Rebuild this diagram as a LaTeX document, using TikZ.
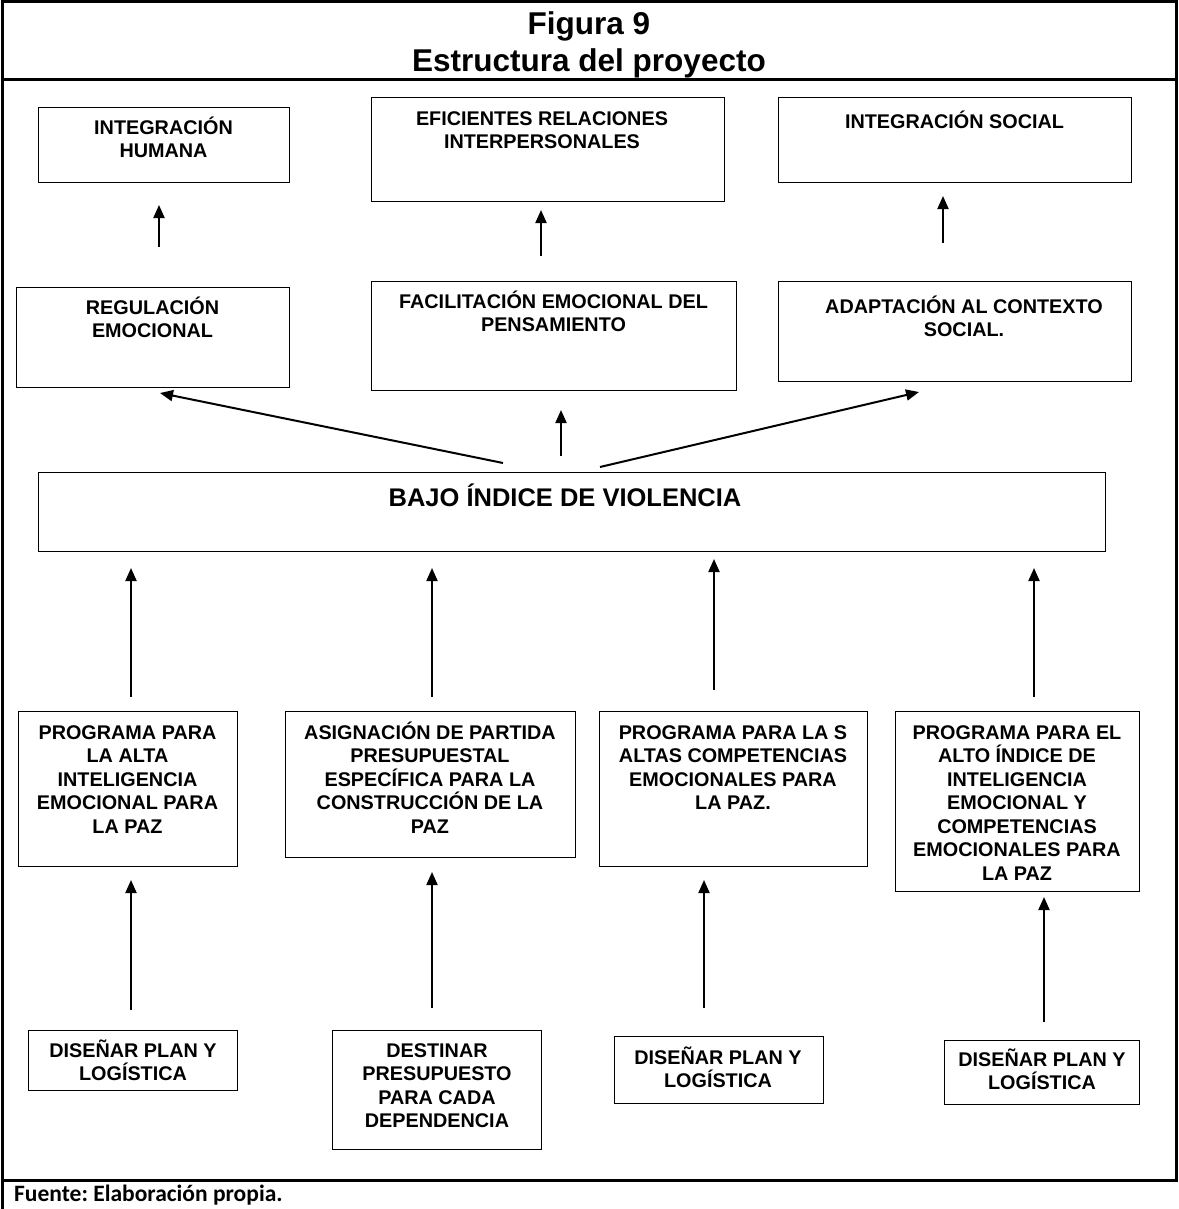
\documentclass[tikz,border=0pt]{standalone}
\usepackage{fontspec}
\setmainfont{Liberation Sans}
\newfontfamily\calfont{Carlito}
\usetikzlibrary{arrows.meta}
\frenchspacing
\newcommand\fl{\rule{0pt}{18pt}}
\newcommand\flb{\rule{0pt}{23pt}}
\tikzset{
  frame/.style={line width=3pt},
  boxst/.style={draw, line width=1.3pt, rectangle, inner sep=0pt, anchor=north west},
  txt/.style={font=\bfseries\fontsize{19.8}{23.5}\selectfont, align=center, inner sep=0pt, anchor=north},
  bigtxt/.style={font=\bfseries\fontsize{25.5}{30}\selectfont, align=center, inner sep=0pt, anchor=north},
  titletxt/.style={font=\bfseries\fontsize{31.5}{36}\selectfont, inner sep=0pt, anchor=base},
  srctxt/.style={font=\calfont\bfseries\fontsize{23.5}{26}\selectfont, inner sep=0pt, anchor=base west},
  arr/.style={line width=2pt, -{Triangle[length=13pt,width=11pt]}},
}
\begin{document}
\begin{tikzpicture}[x=1pt,y=-1pt]
\useasboundingbox (0,0) rectangle (1178,1209);
% frame
\coordinate (fTL) at (2,2);
\coordinate (fTR) at (1176,2);
\coordinate (fBL) at (2,1209);
\coordinate (fR) at (1176,1180);
\coordinate (sepL) at (2,80);
\coordinate (sepR) at (1176,80);
\coordinate (botL) at (2,1180);
\coordinate (botR) at (1178,1180);
\draw[frame] (fBL) -- (fTL) -- (fTR) -- (fR);
\draw[frame] (sepL) -- (sepR);
\draw[frame] (botL) -- (botR);
\node[titletxt] (title1) at (589,35) {Figura 9};
\node[titletxt] (title2) at (589,72) {Estructura del proyecto};
\node[srctxt] (src) at (14,1201) {Fuente: Elaboración propia.};

% boxes
\node[boxst, minimum width=251pt, minimum height=75pt] (b1) at (38,107) {};
\node[boxst, minimum width=353pt, minimum height=104pt] (b2) at (371,97) {};
\node[boxst, minimum width=353pt, minimum height=85pt] (b3) at (778,97) {};
\node[boxst, minimum width=273pt, minimum height=100pt] (b4) at (16,287) {};
\node[boxst, minimum width=365pt, minimum height=109pt] (b5) at (371,281) {};
\node[boxst, minimum width=353pt, minimum height=100pt] (b6) at (778,281) {};
\node[boxst, minimum width=1067pt, minimum height=79pt] (b7) at (38,472) {};
\node[boxst, minimum width=219pt, minimum height=155pt] (b8) at (18,711) {};
\node[boxst, minimum width=290pt, minimum height=146pt] (b9) at (285,711) {};
\node[boxst, minimum width=268pt, minimum height=155pt] (b10) at (599,711) {};
\node[boxst, minimum width=244pt, minimum height=180pt] (b11) at (895,711) {};
\node[boxst, minimum width=209pt, minimum height=60pt] (b12) at (28,1030) {};
\node[boxst, minimum width=209pt, minimum height=119pt] (b13) at (332,1030) {};
\node[boxst, minimum width=209pt, minimum height=67pt] (b14) at (614,1036) {};
\node[boxst, minimum width=195pt, minimum height=64pt] (b15) at (944,1040) {};

% texts
\node[txt] (t1) at (163.5,116) {\fl INTEGRACIÓN\\HUMANA};
\node[txt] (t2) at (542,107) {\fl EFICIENTES RELACIONES\\INTERPERSONALES};
\node[txt] (t3) at (954.5,110) {\fl INTEGRACIÓN SOCIAL};
\node[txt] (t4) at (152.5,296) {\fl REGULACIÓN\\EMOCIONAL};
\node[txt] (t5) at (553.5,290) {\fl FACILITACIÓN EMOCIONAL DEL\\PENSAMIENTO};
\node[txt] (t6) at (964,295) {\fl ADAPTACIÓN AL CONTEXTO\\SOCIAL.};
\node[bigtxt] (t7) at (565,483) {\flb BAJO ÍNDICE DE VIOLENCIA};
\node[txt] (t8) at (127.5,721) {\fl PROGRAMA PARA\\LA ALTA\\INTELIGENCIA\\EMOCIONAL PARA\\LA PAZ};
\node[txt] (t9) at (430,721) {\fl ASIGNACIÓN DE PARTIDA\\PRESUPUESTAL\\ESPECÍFICA PARA LA\\CONSTRUCCIÓN DE LA\\PAZ};
\node[txt] (t10) at (733,721) {\fl PROGRAMA PARA LA S\\ALTAS COMPETENCIAS\\EMOCIONALES PARA\\LA PAZ.};
\node[txt] (t11) at (1017,721) {\fl PROGRAMA PARA EL\\ALTO ÍNDICE DE\\INTELIGENCIA\\EMOCIONAL Y\\COMPETENCIAS\\EMOCIONALES PARA\\LA PAZ};
\node[txt] (t12) at (133,1039) {\fl DISEÑAR PLAN Y\\LOGÍSTICA};
\node[txt] (t13) at (437,1039) {\fl DESTINAR\\PRESUPUESTO\\PARA CADA\\DEPENDENCIA};
\node[txt] (t14) at (718,1046) {\fl DISEÑAR PLAN Y\\LOGÍSTICA};
\node[txt] (t15) at (1042,1048) {\fl DISEÑAR PLAN Y\\LOGÍSTICA};

% arrow end points
\coordinate (s1) at (159,247);  \coordinate (e1) at (159,205);
\coordinate (s2) at (541,256);  \coordinate (e2) at (541,210);
\coordinate (s3) at (943,243);  \coordinate (e3) at (943,196);
\coordinate (s4) at (503,463);  \coordinate (e4) at (160,393);
\coordinate (s5) at (561,456);  \coordinate (e5) at (561,410);
\coordinate (s6) at (600,467);  \coordinate (e6) at (919,392);
\coordinate (s7) at (131,697);  \coordinate (e7) at (131,568);
\coordinate (s8) at (432,697);  \coordinate (e8) at (432,568);
\coordinate (s9) at (714,690);  \coordinate (e9) at (714,559);
\coordinate (s10) at (1034,697); \coordinate (e10) at (1034,568);
\coordinate (s11) at (131,1010); \coordinate (e11) at (131,880);
\coordinate (s12) at (432,1008); \coordinate (e12) at (432,872);
\coordinate (s13) at (704,1008); \coordinate (e13) at (704,880);
\coordinate (s14) at (1044,1022); \coordinate (e14) at (1044,897);
\foreach \i in {1,...,14} {\draw[arr] (s\i) -- (e\i);}
\end{tikzpicture}
\end{document}
